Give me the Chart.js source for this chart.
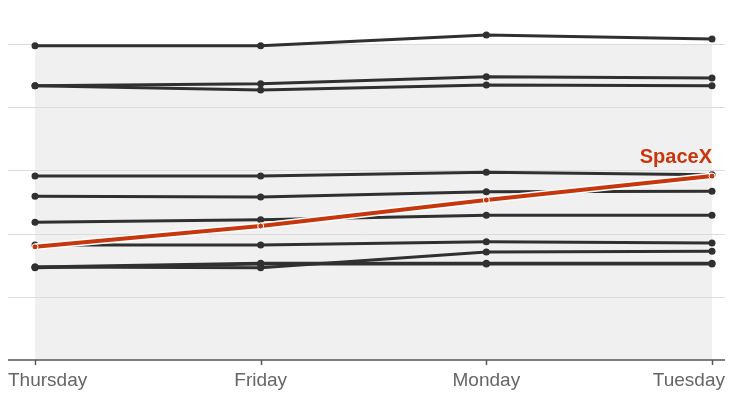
<!DOCTYPE html>
<html lang="en">
<head>
<meta charset="UTF-8">
<title>SpaceX</title>
<script src="https://cdn.jsdelivr.net/npm/chart.js"></script>
<style>
  html, body { margin: 0; padding: 0; background: #fff; }
  #wrap { position: relative; width: 738px; height: 415px; }
</style>
</head>
<body>
<div id="wrap"><canvas id="grafico" width="738" height="415"></canvas></div>
<script>
  var dias = ["Thursday", "Friday", "Monday", "Tuesday"];
  var gridValores = [0, 1, 2, 3, 4, 5];

  // outras empresas (linhas cinza)
  var empresa1 = [4.97, 4.97, 5.14, 5.08];
  var empresa2 = [4.34, 4.37, 4.48, 4.46];
  var empresa3 = [4.34, 4.27, 4.35, 4.34];
  var empresa4 = [2.91, 2.91, 2.97, 2.93];
  var empresa5 = [2.59, 2.58, 2.66, 2.67];
  var empresa6 = [2.18, 2.22, 2.29, 2.29];
  var empresa7 = [1.82, 1.82, 1.87, 1.85];
  var empresa8 = [1.47, 1.46, 1.71, 1.72];
  var empresa9 = [1.47, 1.53, 1.53, 1.53];
  var empresa10 = [1.46, 1.52, 1.52, 1.52];

  var spacex = [1.79, 2.12, 2.53, 2.91];

  var cinzas = [empresa1, empresa2, empresa3, empresa4, empresa5, empresa6, empresa7, empresa8, empresa9, empresa10];
  var corLinha = "#303030";
  var corSpace = "#c7370e";

  var datasets = [];
  datasets.push({
    label: "SpaceX",
    data: spacex,
    borderColor: corSpace,
    backgroundColor: corSpace,
    borderWidth: 4,
    pointRadius: 3,
    pointBorderColor: "#fff",
    pointBorderWidth: 1,
    order: 0
  });
  datasets.push({
    label: "halo",
    data: spacex,
    borderColor: "#fff",
    borderWidth: 7,
    pointRadius: 0,
    order: 1
  });
  for (var i = 0; i < cinzas.length; i++) {
    datasets.push({
      label: "e" + (i + 1),
      data: cinzas[i],
      borderColor: corLinha,
      backgroundColor: corLinha,
      borderWidth: 3,
      pointRadius: 3.5,
      pointBorderWidth: 0,
      order: 2
    });
  }

  var fundo = {
    id: "fundo",
    beforeDatasetsDraw: function (chart) {
      var ctx = chart.ctx;
      var area = chart.chartArea;
      var y = chart.scales.y;
      var x = chart.scales.x;
      ctx.save();
      ctx.fillStyle = "#f0f0f0";
      ctx.fillRect(area.left, y.getPixelForValue(5), area.right - area.left, y.getPixelForValue(0) - y.getPixelForValue(5));
      ctx.strokeStyle = "#dcdcdc";
      ctx.lineWidth = 1;
      for (var i = 1; i < gridValores.length; i++) {
        var py = Math.round(y.getPixelForValue(gridValores[i])) + 0.5;
        ctx.beginPath();
        ctx.moveTo(8, py);
        ctx.lineTo(725, py);
        ctx.stroke();
      }
      var base = y.getPixelForValue(0);
      ctx.strokeStyle = "#555";
      ctx.lineWidth = 1.5;
      ctx.beginPath();
      ctx.moveTo(8, base);
      ctx.lineTo(725, base);
      ctx.stroke();
      for (var j = 0; j < dias.length; j++) {
        var px = Math.round(x.getPixelForValue(j)) + 0.5;
        ctx.beginPath();
        ctx.moveTo(px, base);
        ctx.lineTo(px, base + 5);
        ctx.stroke();
      }
      ctx.restore();
    },
    afterDraw: function (chart) {
      var ctx = chart.ctx;
      var x = chart.scales.x;
      var y = chart.scales.y;
      ctx.save();
      ctx.fillStyle = "#666";
      ctx.font = "19px 'Liberation Sans', Arial, sans-serif";
      ctx.textBaseline = "alphabetic";
      for (var j = 0; j < dias.length; j++) {
        var px = x.getPixelForValue(j);
        if (j == 0) { ctx.textAlign = "left"; px = 8; }
        else if (j == dias.length - 1) { ctx.textAlign = "right"; px = 725; }
        else { ctx.textAlign = "center"; }
        ctx.fillText(dias[j], px, 386);
      }
      ctx.fillStyle = corSpace;
      ctx.font = "bold 20px 'Liberation Sans', Arial, sans-serif";
      ctx.textAlign = "right";
      ctx.fillText("SpaceX", x.getPixelForValue(3), y.getPixelForValue(spacex[3]) - 13);
      ctx.restore();
    }
  };

  new Chart(document.getElementById("grafico"), {
    type: "line",
    data: { labels: dias, datasets: datasets },
    options: {
      responsive: false,
      animation: false,
      layout: { padding: { left: 35, right: 26, top: 25, bottom: 55 } },
      plugins: { legend: { display: false }, tooltip: { enabled: false } },
      elements: { line: { tension: 0 } },
      scales: {
        x: { display: false, offset: false },
        y: { display: false, min: 0, max: 5.3 }
      }
    },
    plugins: [fundo]
  });
</script>
</body>
</html>
